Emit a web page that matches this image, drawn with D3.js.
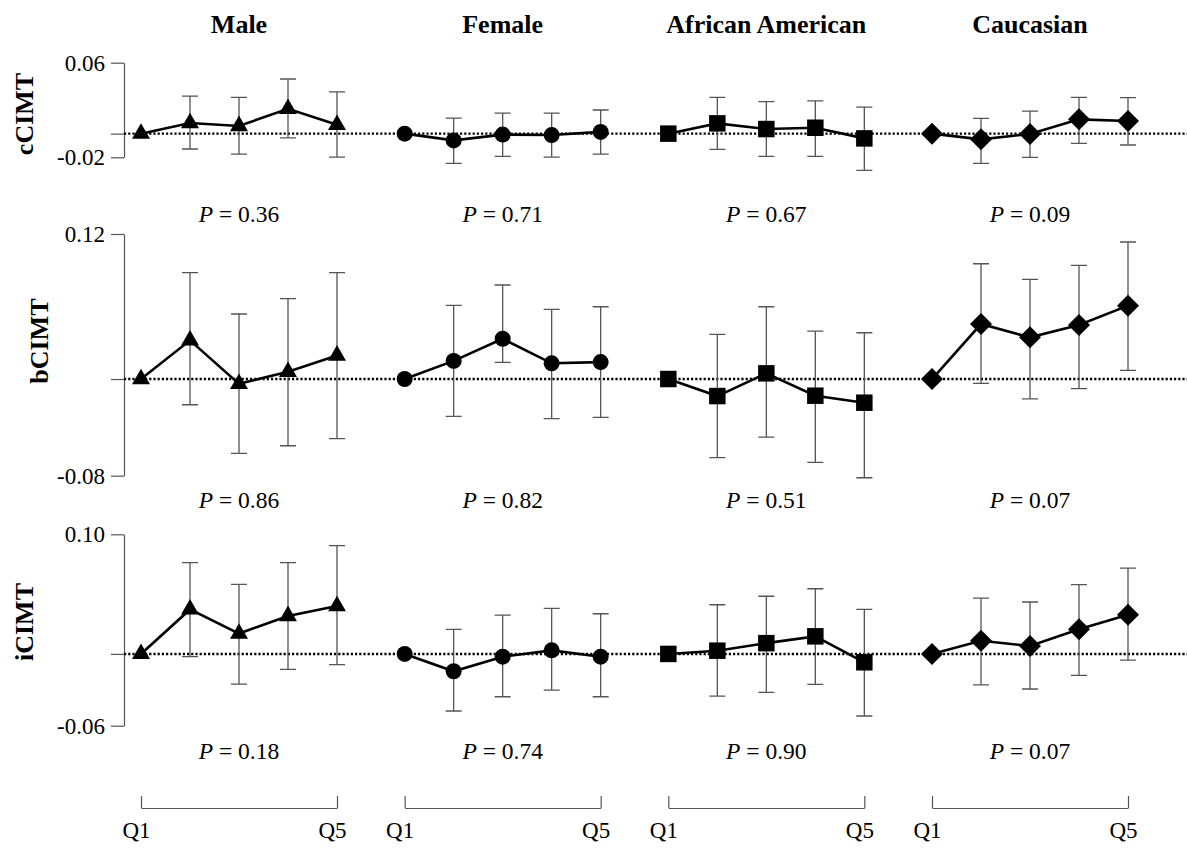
<!DOCTYPE html>
<html lang="en">
<head>
<meta charset="UTF-8">
<title>CIMT by quintile</title>
<style>
  body { margin: 0; background: #fff; }
  svg { font-family: "Liberation Serif", "Times New Roman", serif; }
  .axis path, .axis line { stroke: #555; stroke-width: 1.2px; }
  .axis text { font-size: 23px; fill: #000; font-family: "Liberation Serif", serif; }
  .zero { stroke: #000; stroke-width: 2.4px; stroke-dasharray: 2.2,2; }
  .err { stroke: #555; stroke-width: 1.3px; fill: none; }
  .trend { stroke: #000; stroke-width: 2.6px; fill: none; }
</style>
</head>
<body>
<svg width="1187" height="848"></svg>
<script src="https://cdn.jsdelivr.net/npm/d3@7"></script>
<script>
// groups, quintiles, outcomes
var groups = ["Male", "Female", "African American", "Caucasian"];
var quintiles = ["Q1", "Q2", "Q3", "Q4", "Q5"];
var outcomes = ["cCIMT", "bCIMT", "iCIMT"];

// y domains and tick labels per outcome
var cDomain = [-0.02, 0.06];
var bDomain = [-0.08, 0.12];
var iDomain = [-0.06, 0.10];
var cTicks = ["-0.02", "0.06"];
var bTicks = ["-0.08", "0.12"];
var iTicks = ["-0.06", "0.10"];

// cCIMT: mean difference vs Q1, lower and upper limits (rows = groups)
var cMean = [
  [0, 0.009, 0.0065, 0.021, 0.0075],
  [0, -0.0057, -0.0008, -0.0012, 0.0015],
  [0, 0.0087, 0.0039, 0.005, -0.004],
  [0, -0.0048, -0.0003, 0.0121, 0.0107]
];
var cLow = [
  [null, -0.013, -0.0173, -0.0035, -0.0198],
  [null, -0.0251, -0.0192, -0.0198, -0.0173],
  [null, -0.0133, -0.0192, -0.0192, -0.031],
  [null, -0.0251, -0.020, -0.0082, -0.0096]
];
var cHigh = [
  [null, 0.0318, 0.0307, 0.0462, 0.0354],
  [null, 0.0132, 0.0174, 0.0174, 0.020],
  [null, 0.0307, 0.027, 0.0278, 0.0225],
  [null, 0.0129, 0.0191, 0.0307, 0.0304]
];

// bCIMT
var bMean = [
  [0, 0.032, -0.004, 0.006, 0.0195],
  [0, 0.015, 0.0333, 0.013, 0.014],
  [0, -0.0141, 0.0047, -0.0138, -0.0196],
  [0, 0.0455, 0.0345, 0.0447, 0.0607]
];
var bLow = [
  [null, -0.0213, -0.0615, -0.0552, -0.0494],
  [null, -0.0309, 0.0138, -0.0328, -0.0317],
  [null, -0.0651, -0.048, -0.0689, -0.0817],
  [null, -0.0036, -0.0165, -0.008, 0.0072]
];
var bHigh = [
  [null, 0.088, 0.0538, 0.0665, 0.088],
  [null, 0.061, 0.0778, 0.0577, 0.0598],
  [null, 0.037, 0.0598, 0.0397, 0.0383],
  [null, 0.0954, 0.0825, 0.0941, 0.1134]
];

// iCIMT
var iMean = [
  [0, 0.0372, 0.017, 0.0317, 0.040],
  [0, -0.0145, -0.0023, 0.003, -0.0023],
  [0, 0.0027, 0.009, 0.0147, -0.007],
  [0, 0.011, 0.0066, 0.0206, 0.0328]
];
var iLow = [
  [null, -0.0023, -0.0252, -0.0129, -0.009],
  [null, -0.0477, -0.0358, -0.0302, -0.0358],
  [null, -0.0352, -0.0321, -0.0254, -0.0519],
  [null, -0.0258, -0.0293, -0.0179, -0.0051]
];
var iHigh = [
  [null, 0.0763, 0.0582, 0.0763, 0.0905],
  [null, 0.0206, 0.0325, 0.0381, 0.0336],
  [null, 0.0411, 0.0482, 0.0545, 0.0373],
  [null, 0.0467, 0.0434, 0.0579, 0.0718]
];

// P for trend
var cP = ["0.36", "0.71", "0.67", "0.09"];
var bP = ["0.86", "0.82", "0.51", "0.07"];
var iP = ["0.18", "0.74", "0.90", "0.07"];

(function () {
  'use strict';

  var svg = d3.select("svg");
  var SERIF = "Liberation Serif, Times New Roman, serif";

  // layout
  var AXIS_X = 124;
  var ROW_RANGE = [[157.3, 62.7], [475.7, 234], [725.7, 534.3]];
  var P_Y = [222, 507.5, 759];
  var LABEL_POS = [[33, 114], [48, 341], [33, 622]];
  var PANEL_W = 196;
  var CAP = 8;

  var rows = [
    { name: outcomes[0], domain: cDomain, ticks: cTicks, mean: cMean, low: cLow, high: cHigh, p: cP },
    { name: outcomes[1], domain: bDomain, ticks: bTicks, mean: bMean, low: bLow, high: bHigh, p: bP },
    { name: outcomes[2], domain: iDomain, ticks: iTicks, mean: iMean, low: iLow, high: iHigh, p: iP }
  ];

  var panelX = d3.scalePoint().domain(groups).range([141, 932]);
  var qx = d3.scaleLinear().domain([0, quintiles.length - 1]).range([0, PANEL_W]);

  var symbols = [
    d3.symbol().type(d3.symbolTriangle).size(140),
    d3.symbol().type(d3.symbolCircle).size(201),
    d3.symbol().type(d3.symbolSquare).size(272),
    d3.symbol().type(d3.symbolSquare).size(243)
  ];
  var symbolRotate = [0, 0, 0, 45];

  // column titles
  svg.selectAll(".title")
    .data(groups)
    .enter()
    .append("text")
    .attr("class", "title")
    .attr("x", function (d) { return panelX(d) + PANEL_W / 2; })
    .attr("y", 33)
    .attr("text-anchor", "middle")
    .attr("font-family", SERIF)
    .attr("font-size", "26px")
    .attr("font-weight", "bold")
    .text(function (d) { return d; });

  rows.forEach(function (row, r) {
    var y = d3.scaleLinear().domain(row.domain).range(ROW_RANGE[r]);

    // y axis bracket
    var labels = [row.ticks[0], "", row.ticks[1]];
    svg.append("g")
      .attr("class", "axis")
      .attr("transform", "translate(" + AXIS_X + ",0)")
      .call(d3.axisLeft(y)
        .tickValues([row.domain[0], 0, row.domain[1]])
        .tickSize(13)
        .tickSizeOuter(0)
        .tickPadding(6)
        .tickFormat(function (d, i) { return labels[i]; }))
      .attr("font-family", SERIF);

    // outcome label
    svg.append("text")
      .attr("transform", "translate(" + LABEL_POS[r][0] + "," + LABEL_POS[r][1] + ") rotate(-90)")
      .attr("text-anchor", "middle")
      .attr("font-family", SERIF)
      .attr("font-size", "26px")
      .attr("font-weight", "bold")
      .text(row.name);

    // reference line
    svg.append("line")
      .attr("class", "zero")
      .attr("x1", AXIS_X)
      .attr("x2", 1187)
      .attr("y1", y(0))
      .attr("y2", y(0));

    groups.forEach(function (g, gi) {
      var pg = svg.append("g").attr("transform", "translate(" + panelX(g) + ",0)");
      var pts = row.mean[gi].map(function (m, k) {
        return { k: k, m: m, lo: row.low[gi][k], hi: row.high[gi][k] };
      });

      // error bars
      pg.selectAll(".eb")
        .data(pts.filter(function (d) { return d.lo !== null; }))
        .enter()
        .append("path")
        .attr("class", "err")
        .attr("d", function (d) {
          var x = qx(d.k);
          return "M" + x + "," + y(d.lo) + "V" + y(d.hi) +
            "M" + (x - CAP) + "," + y(d.hi) + "H" + (x + CAP) +
            "M" + (x - CAP) + "," + y(d.lo) + "H" + (x + CAP);
        });

      // trend line
      pg.append("path")
        .attr("class", "trend")
        .attr("d", d3.line()
          .x(function (d) { return qx(d.k); })
          .y(function (d) { return y(d.m); })(pts));

      // markers
      pg.selectAll(".mk")
        .data(pts)
        .enter()
        .append("path")
        .attr("fill", "#000")
        .attr("transform", function (d) {
          return "translate(" + qx(d.k) + "," + y(d.m) + ") rotate(" + symbolRotate[gi] + ")";
        })
        .attr("d", symbols[gi]);

      // P value
      var pt = pg.append("text")
        .attr("x", PANEL_W / 2)
        .attr("y", P_Y[r])
        .attr("text-anchor", "middle")
        .attr("font-family", SERIF)
        .attr("font-size", "23.5px");
      pt.append("tspan").attr("font-style", "italic").text("P");
      pt.append("tspan").text(" = " + row.p[gi]);
    });
  });

  // bottom quintile brackets
  groups.forEach(function (g) {
    var ax = svg.append("g")
      .attr("class", "axis")
      .attr("transform", "translate(" + panelX(g) + ",808)")
      .call(d3.axisBottom(qx)
        .tickValues([0, quintiles.length - 1])
        .tickSize(-12)
        .tickSizeOuter(0)
        .tickPadding(14)
        .tickFormat(function (d) { return quintiles[d]; }))
      .attr("font-family", SERIF);
    ax.selectAll("text").attr("dx", -5);
  });
})();
</script>
</body>
</html>
